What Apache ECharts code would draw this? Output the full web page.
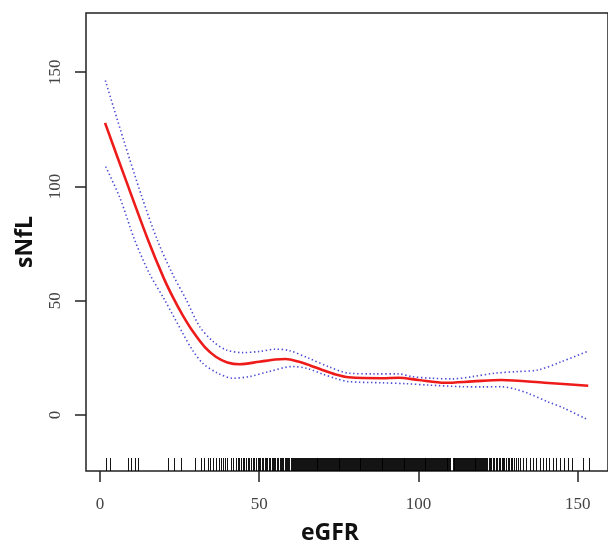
<!DOCTYPE html>
<html>
<head>
<meta charset="utf-8">
<script src="https://cdn.jsdelivr.net/npm/echarts@6/dist/echarts.min.js"></script>
<style>
html,body{margin:0;padding:0;background:#fff;}
#chart{width:608px;height:544px;}
</style>
</head>
<body>
<div id="chart"></div>
<script>
// ---- data ----
const xTicks = [0, 50, 100, 150];
const yTicks = [0, 50, 100, 150];

// fitted curve (eGFR, sNfL)
const fitX = [1.6, 8.0, 15.1, 20.0, 23.1, 26.0, 29.2, 33.0, 36.5, 40.0, 43.8, 50.0, 55.0, 58.3, 62.5, 66.0, 69.8, 74.0, 78.1, 88.5, 93.8, 100.0, 108.3, 117.0, 126.0, 139.6, 153.3];
const fitY = [127.8, 103.3, 76.6, 60.0, 51.0, 43.6, 36.5, 29.6, 25.4, 23.0, 22.2, 23.3, 24.3, 24.5, 23.3, 21.7, 19.7, 17.7, 16.5, 16.1, 16.3, 15.3, 14.1, 14.7, 15.3, 14.1, 12.8];

// upper 95% band
const upX = [1.7, 7.5, 13.3, 18.0, 22.5, 27.1, 31.3, 35.5, 39.6, 44.8, 50.0, 55.2, 59.4, 65.6, 72.0, 78.1, 86.0, 93.8, 97.9, 104.0, 110.4, 117.0, 124.0, 131.0, 137.5, 144.8, 152.9];
const upY = [146.4, 120.0, 94.9, 76.6, 62.5, 50.4, 38.7, 32.2, 28.5, 27.3, 27.8, 28.8, 28.2, 24.8, 21.0, 18.3, 18.0, 18.0, 16.8, 16.1, 15.8, 16.8, 18.3, 19.0, 19.7, 23.3, 27.7];

// lower 95% band
const loX = [1.8, 6.3, 10.9, 15.5, 20.3, 26.0, 29.0, 32.3, 37.0, 41.7, 46.9, 53.0, 60.4, 65.0, 69.8, 74.0, 78.1, 88.5, 96.0, 103.1, 113.5, 120.0, 126.0, 130.5, 134.4, 140.6, 145.8, 152.9];
const loY = [108.7, 94.9, 76.6, 62.0, 50.4, 35.8, 28.5, 22.6, 18.3, 16.1, 16.8, 19.0, 21.2, 20.4, 18.0, 16.0, 14.6, 14.1, 13.7, 13.1, 12.4, 12.3, 12.4, 11.3, 9.5, 5.8, 2.9, -1.9];

// rug: observed eGFR values
const rugSparse = [1.8, 3.1, 8.8, 9.9, 10.9, 12.0, 21.4, 23.2, 25.3, 30.0, 31.8, 32.8, 33.9, 34.7, 35.4, 36.5, 37.3, 38.0, 38.5, 39.3, 39.8, 41.1, 41.9, 42.7, 43.2, 43.8, 44.3, 44.8, 45.3, 45.8, 46.4, 46.9, 47.4, 47.9, 48.4, 49.0];
const rugMid = [49.5, 49.9, 50.4, 50.8, 51.3, 51.7, 52.2, 52.5, 53.0, 53.4, 53.9, 54.2, 54.7, 55.1, 55.6, 55.9, 56.4, 56.8, 57.2, 57.6, 58.0, 58.4, 58.8, 59.1, 59.5, 59.9, 60.3, 60.6, 61.0, 61.3, 61.7, 62.0, 62.3];
const rugDense = [62.6, 62.9, 63.2, 63.5, 63.8, 64.1, 64.4, 64.7, 65.0, 65.3, 65.6, 65.9, 66.2, 66.5, 66.8, 67.1, 67.4, 67.7, 68.0, 68.3, 68.6, 68.9, 69.2, 69.5, 69.8, 70.1, 70.4, 70.7, 71.0, 71.3, 71.6, 71.9, 72.2, 72.5, 72.8, 73.1, 73.4, 73.7, 74.0, 74.3, 74.6, 74.9, 75.2, 75.5, 75.8, 76.1, 76.4, 76.7, 77.0, 77.3, 77.6, 77.9, 78.2, 78.5, 78.8, 79.1, 79.4, 79.7, 80.0, 80.3, 80.6, 80.9, 81.2, 81.5, 81.8, 82.1, 82.4, 82.7, 83.0, 83.3, 83.6, 83.9, 84.2, 84.5, 84.8, 85.1, 85.4, 85.7, 86.0, 86.3, 86.6, 86.9, 87.2, 87.5, 87.8, 88.1, 88.4, 88.7, 89.0, 89.3, 89.6, 89.9, 90.2, 90.5, 90.8, 91.1, 91.4, 91.7, 92.0, 92.3, 92.6, 92.9, 93.2, 93.5, 93.8, 94.1, 94.4, 94.7, 95.0, 95.3, 95.6, 95.9, 96.2, 96.5, 96.8, 97.1, 97.4, 97.7, 98.0, 98.3, 98.6, 98.9, 99.2, 99.5, 99.8, 100.1, 100.4, 100.7, 101.0, 101.3, 101.6, 101.9, 102.2, 102.5, 102.8, 103.1, 103.4, 103.7, 104.0, 104.3, 104.6, 104.9, 105.2, 105.5, 105.8, 106.1, 106.4, 106.7, 107.0, 107.3, 107.6, 107.9, 108.2, 108.5, 108.8, 109.1, 109.4, 109.7, 110.0, 110.7, 111.0, 111.3, 111.6, 111.9, 112.2, 112.5, 112.8, 113.1, 113.4, 113.7, 114.0, 114.3, 114.6, 114.9, 115.2, 115.5, 115.8, 116.1, 116.4, 116.7, 117.0, 117.3, 117.6, 117.9, 118.2, 118.5, 118.8, 119.1, 119.4, 119.7, 120.0, 120.3, 120.6, 120.9, 121.2];
const rugUpper = [121.6, 122.0, 122.5, 122.9, 123.4, 123.8, 124.3, 124.7, 125.2, 125.6, 126.1, 126.5, 127.0, 127.5, 128.0, 128.4, 128.9, 129.4, 130.0, 130.5, 131.1, 131.8, 132.8, 133.8, 134.9, 136.0, 137.0, 138.0, 139.1, 140.1, 141.1, 142.2, 143.2, 144.3, 145.8, 146.9, 148.1, 151.6, 153.4];

const X_MIN = -4.375, X_MAX = 159.5;
const Y_MIN = -24.5, Y_MAX = 175.9;

const zip = (xs, ys) => xs.map((x, i) => [x, ys[i]]);
const rugAll = rugSparse.concat(rugMid, rugDense, rugUpper);

const chart = echarts.init(document.getElementById('chart'), null, {renderer: 'canvas'});
const labelFont = {fontFamily: '"Liberation Serif", "DejaVu Serif", serif', fontSize: 17, color: '#444'};

chart.setOption({
  animation: false,
  backgroundColor: '#fff',
  grid: {left: 86, top: 13, width: 524, height: 458, show: true, borderColor: '#222', borderWidth: 1.5, backgroundColor: 'transparent'},
  xAxis: {
    type: 'value', min: X_MIN, max: X_MAX,
    splitLine: {show: false},
    axisLine: {show: false, onZero: false},
    axisTick: {show: true, inside: false, length: 11, customValues: xTicks, lineStyle: {color: '#222', width: 1.5}},
    axisLabel: Object.assign({show: true, margin: 25, customValues: xTicks, formatter: v => String(v)}, labelFont)
  },
  yAxis: {
    type: 'value', min: Y_MIN, max: Y_MAX,
    splitLine: {show: false},
    axisLine: {show: false, onZero: false},
    axisTick: {show: true, inside: false, length: 11, customValues: yTicks, lineStyle: {color: '#222', width: 1.5}},
    axisLabel: Object.assign({show: true, margin: 22, rotate: 90, customValues: yTicks, formatter: v => String(v)}, labelFont)
  },
  graphic: [
    {type: 'text', x: 330, y: 533, style: {text: 'eGFR', font: 'bold 23px "Open Sans", "Liberation Sans", sans-serif', fill: '#111', align: 'center', verticalAlign: 'middle'}},
    {type: 'text', x: 25, y: 242, rotation: Math.PI / 2, style: {text: 'sNfL', font: 'bold 23px "Open Sans", "Liberation Sans", sans-serif', fill: '#111', align: 'center', verticalAlign: 'middle'}}
  ],
  series: [
    {
      type: 'custom',
      data: rugAll.map(v => [v, Y_MIN]),
      encode: {x: 0, y: 1},
      renderItem: function (params, api) {
        const p = api.coord([api.value(0), api.value(1)]);
        const px = Math.round(p[0]) + 0.5;
        return {type: 'line', shape: {x1: px, y1: p[1], x2: px, y2: p[1] - 13}, style: {stroke: 'rgba(0,0,0,0.92)', lineWidth: 1}};
      },
      z: 1
    },
    {type: 'line', data: zip(upX, upY), smooth: 0.3, showSymbol: false, lineStyle: {color: '#4b4bd6', width: 1.6, type: [1.4, 2.6]}, z: 2},
    {type: 'line', data: zip(loX, loY), smooth: 0.3, showSymbol: false, lineStyle: {color: '#4b4bd6', width: 1.6, type: [1.4, 2.6]}, z: 2},
    {type: 'line', data: zip(fitX, fitY), smooth: 0.3, showSymbol: false, lineStyle: {color: '#ee1b1b', width: 2.6}, z: 3}
  ]
});
</script>
</body>
</html>
